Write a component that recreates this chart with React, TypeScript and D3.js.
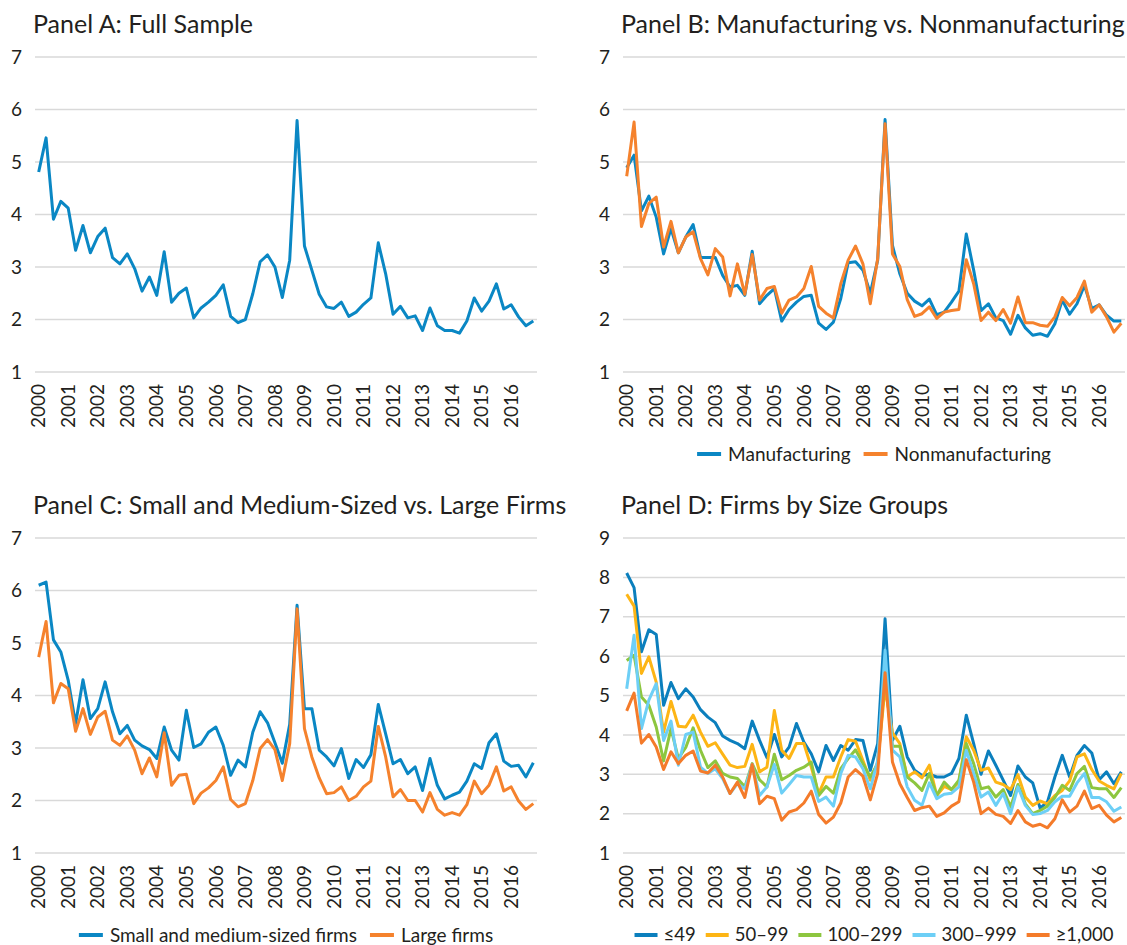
import React, { useEffect, useRef } from 'react';
import * as d3 from 'd3';

const years = [2000, 2001, 2002, 2003, 2004, 2005, 2006, 2007, 2008, 2009, 2010, 2011, 2012, 2013, 2014, 2015, 2016];
const quarters = years.flatMap((y) => ['Q1', 'Q2', 'Q3', 'Q4'].map((q) => `${y}${q}`));

const fullSample = [
  4.81, 5.46, 3.91, 4.25, 4.12, 3.32, 3.79, 3.27, 3.58, 3.74,
  3.18, 3.06, 3.25, 2.97, 2.54, 2.81, 2.46, 3.29, 2.33, 2.50,
  2.60, 2.03, 2.22, 2.33, 2.46, 2.66, 2.06, 1.94, 2.00, 2.49,
  3.10, 3.23, 3.00, 2.42, 3.13, 5.79, 3.40, 2.94, 2.48, 2.24,
  2.21, 2.33, 2.06, 2.14, 2.29, 2.41, 3.46, 2.87, 2.10, 2.25,
  2.03, 2.07, 1.79, 2.22, 1.88, 1.79, 1.79, 1.74, 1.97, 2.41,
  2.16, 2.35, 2.68, 2.20, 2.28, 2.05, 1.88, 1.97,
];

const manufacturing = [
  4.89, 5.13, 4.07, 4.35, 3.95, 3.25, 3.73, 3.27, 3.57, 3.81,
  3.18, 3.18, 3.18, 2.84, 2.62, 2.65, 2.46, 3.30, 2.30, 2.46,
  2.59, 1.97, 2.19, 2.33, 2.44, 2.46, 1.93, 1.81, 1.95, 2.40,
  3.08, 3.10, 2.94, 2.50, 3.13, 5.81, 3.41, 2.87, 2.50, 2.35,
  2.26, 2.39, 2.09, 2.14, 2.33, 2.54, 3.63, 2.94, 2.17, 2.30,
  2.03, 1.98, 1.72, 2.08, 1.84, 1.70, 1.73, 1.68, 1.92, 2.37,
  2.10, 2.30, 2.65, 2.21, 2.28, 2.08, 1.97, 1.97,
];

const nonmanufacturing = [
  4.73, 5.76, 3.77, 4.21, 4.33, 3.38, 3.87, 3.27, 3.57, 3.67,
  3.16, 2.85, 3.35, 3.19, 2.45, 3.06, 2.48, 3.24, 2.37, 2.59,
  2.63, 2.12, 2.37, 2.43, 2.59, 3.01, 2.25, 2.12, 2.03, 2.68,
  3.13, 3.40, 3.06, 2.30, 3.16, 5.73, 3.25, 3.01, 2.38, 2.06,
  2.11, 2.24, 2.02, 2.14, 2.17, 2.19, 3.14, 2.68, 1.98, 2.14,
  1.98, 2.19, 1.93, 2.43, 1.94, 1.94, 1.89, 1.87, 2.05, 2.42,
  2.26, 2.42, 2.73, 2.14, 2.28, 2.05, 1.76, 1.93,
];

const smeFirms = [
  6.10, 6.16, 5.06, 4.83, 4.29, 3.46, 4.30, 3.56, 3.75, 4.26,
  3.69, 3.27, 3.43, 3.15, 3.04, 2.97, 2.80, 3.40, 2.96, 2.77,
  3.72, 3.01, 3.08, 3.30, 3.40, 3.05, 2.48, 2.77, 2.64, 3.30,
  3.69, 3.48, 3.10, 2.71, 3.45, 5.72, 3.75, 3.75, 2.96, 2.83,
  2.66, 2.99, 2.42, 2.78, 2.63, 2.87, 3.83, 3.27, 2.70, 2.78,
  2.51, 2.64, 2.19, 2.80, 2.29, 2.03, 2.10, 2.16, 2.37, 2.70,
  2.61, 3.10, 3.27, 2.75, 2.65, 2.67, 2.45, 2.72,
];

const largeFirms = [
  4.73, 5.41, 3.86, 4.23, 4.13, 3.32, 3.75, 3.26, 3.59, 3.70,
  3.15, 3.05, 3.23, 2.96, 2.51, 2.81, 2.45, 3.29, 2.29, 2.48,
  2.50, 1.94, 2.14, 2.24, 2.38, 2.64, 2.02, 1.88, 1.94, 2.38,
  2.99, 3.16, 2.97, 2.38, 3.08, 5.65, 3.37, 2.83, 2.43, 2.13,
  2.15, 2.26, 2.00, 2.08, 2.26, 2.37, 3.41, 2.83, 2.07, 2.21,
  2.00, 2.00, 1.78, 2.15, 1.83, 1.72, 1.77, 1.72, 1.92, 2.37,
  2.13, 2.29, 2.64, 2.18, 2.26, 1.99, 1.83, 1.94,
];

const size49 = [
  8.11, 7.74, 6.11, 6.67, 6.55, 4.75, 5.33, 4.92, 5.17, 4.96,
  4.64, 4.45, 4.31, 3.97, 3.86, 3.78, 3.65, 4.35, 3.86, 3.42,
  4.01, 3.44, 3.69, 4.29, 3.82, 3.52, 3.06, 3.73, 3.35, 3.73,
  3.61, 3.88, 3.86, 3.10, 3.78, 6.95, 3.86, 4.22, 3.44, 3.10,
  2.97, 3.00, 2.93, 2.93, 3.02, 3.40, 4.50, 3.78, 3.00, 3.59,
  3.23, 2.85, 2.46, 3.21, 2.93, 2.78, 2.14, 2.30, 2.93, 3.48,
  2.93, 3.48, 3.73, 3.54, 2.86, 3.06, 2.76, 3.06,
];

const size50to99 = [
  7.57, 7.27, 5.56, 5.98, 5.34, 4.07, 4.85, 4.22, 4.20, 4.50,
  4.07, 3.71, 3.80, 3.51, 3.23, 3.17, 3.20, 3.76, 3.06, 3.18,
  4.62, 3.61, 3.40, 3.78, 3.78, 3.18, 2.51, 2.93, 2.93, 3.44,
  3.88, 3.84, 3.35, 2.85, 3.30, 5.20, 4.05, 3.78, 2.93, 3.06,
  2.91, 3.23, 2.46, 2.69, 2.61, 2.80, 3.95, 3.61, 3.10, 3.16,
  2.80, 2.74, 2.61, 2.99, 2.42, 2.21, 2.32, 2.25, 2.46, 2.59,
  2.83, 3.44, 3.52, 3.12, 2.83, 2.72, 2.63, 3.02,
];

const size100to299 = [
  5.89, 6.02, 4.96, 4.75, 4.20, 3.34, 4.16, 3.40, 3.68, 4.18,
  3.61, 3.17, 3.34, 3.02, 2.93, 2.89, 2.68, 3.27, 2.86, 2.68,
  3.51, 2.86, 2.97, 3.10, 3.18, 3.31, 2.46, 2.69, 2.52, 3.14,
  3.40, 3.62, 3.27, 2.93, 3.27, 5.50, 3.71, 3.71, 2.93, 2.78,
  2.59, 3.02, 2.46, 2.80, 2.61, 2.85, 3.78, 3.27, 2.63, 2.68,
  2.42, 2.61, 2.17, 2.74, 2.25, 2.00, 2.08, 2.19, 2.41, 2.72,
  2.59, 3.02, 3.20, 2.66, 2.63, 2.63, 2.41, 2.66,
];

const size300to999 = [
  5.17, 6.53, 4.16, 4.88, 5.30, 3.86, 4.35, 3.23, 4.01, 4.07,
  3.18, 3.02, 3.14, 2.89, 2.51, 2.76, 2.63, 3.25, 2.46, 2.68,
  3.25, 2.52, 2.74, 2.97, 2.93, 2.93, 2.31, 2.42, 2.19, 3.02,
  3.48, 3.44, 3.14, 2.63, 3.35, 6.15, 3.61, 3.44, 2.68, 2.34,
  2.21, 2.78, 2.38, 2.49, 2.52, 2.68, 3.61, 3.02, 2.42, 2.55,
  2.21, 2.51, 2.00, 2.68, 2.21, 1.98, 2.00, 2.08, 2.30, 2.44,
  2.44, 2.78, 3.02, 2.41, 2.41, 2.30, 2.06, 2.17,
];

const size1000plus = [
  4.61, 5.06, 3.79, 4.01, 3.69, 3.12, 3.57, 3.27, 3.48, 3.59,
  3.08, 3.03, 3.23, 2.93, 2.51, 2.80, 2.41, 3.25, 2.25, 2.44,
  2.38, 1.83, 2.04, 2.10, 2.27, 2.57, 1.98, 1.76, 1.91, 2.27,
  2.93, 3.12, 2.95, 2.35, 3.02, 5.58, 3.31, 2.76, 2.41, 2.08,
  2.15, 2.19, 1.93, 2.02, 2.19, 2.30, 3.37, 2.80, 2.00, 2.14,
  1.98, 1.93, 1.75, 2.08, 1.79, 1.68, 1.73, 1.64, 1.87, 2.35,
  2.04, 2.19, 2.57, 2.13, 2.21, 1.96, 1.79, 1.90,
];

const ticksTop = [1, 2, 3, 4, 5, 6, 7];
const ticksD = [1, 2, 3, 4, 5, 6, 7, 8, 9];

const BLUE = '#0a87c4';
const ORANGE = '#f5822d';

type Series = { name: string; values: number[]; color: string };
type Panel = {
  title: string;
  left: number;
  top: number;
  yTicks: number[];
  series: Series[];
  legend: boolean;
};

const panels: Panel[] = [
  { title: 'Panel A: Full Sample', left: 35, top: 57, yTicks: ticksTop, legend: false,
    series: [{ name: 'Full sample', values: fullSample, color: BLUE }] },
  { title: 'Panel B: Manufacturing vs. Nonmanufacturing', left: 623, top: 57, yTicks: ticksTop, legend: true,
    series: [
      { name: 'Manufacturing', values: manufacturing, color: BLUE },
      { name: 'Nonmanufacturing', values: nonmanufacturing, color: ORANGE },
    ] },
  { title: 'Panel C: Small and Medium-Sized vs. Large Firms', left: 35, top: 538, yTicks: ticksTop, legend: true,
    series: [
      { name: 'Small and medium-sized firms', values: smeFirms, color: BLUE },
      { name: 'Large firms', values: largeFirms, color: ORANGE },
    ] },
  { title: 'Panel D: Firms by Size Groups', left: 623, top: 538, yTicks: ticksD, legend: true,
    series: [
      { name: '≤49', values: size49, color: '#0b7fbd' },
      { name: '50–99', values: size50to99, color: '#fdb515' },
      { name: '100–299', values: size100to299, color: '#8dc63f' },
      { name: '300–999', values: size300to999, color: '#6dcff6' },
      { name: '≥1,000', values: size1000plus, color: '#f47b2a' },
    ] },
];

const PW = 502;
const PH = 315;
const FONT = 'Lato, "Open Sans", sans-serif';
const TEXT = '#231f20';

export default function App() {
  const ref = useRef<SVGSVGElement>(null);

  useEffect(() => {
    const svg = d3.select(ref.current);
    svg.selectAll('*').remove();

    panels.forEach((p) => {
      const g = svg.append('g');
      const x = d3.scaleBand<string>().domain(quarters).range([p.left, p.left + PW]);
      const yMin = p.yTicks[0];
      const yMax = p.yTicks[p.yTicks.length - 1];
      const y = d3.scaleLinear().domain([yMin, yMax]).range([p.top + PH, p.top]);
      const cx = (q: string) => (x(q) as number) + x.bandwidth() / 2;

      g.append('text')
        .attr('x', p.left - 2)
        .attr('y', p.top - 24)
        .attr('font-family', FONT)
        .attr('font-size', 25)
        .attr('fill', TEXT)
        .text(p.title);

      g.selectAll('line.grid')
        .data(p.yTicks)
        .join('line')
        .attr('x1', p.left)
        .attr('x2', p.left + PW)
        .attr('y1', (d) => y(d))
        .attr('y2', (d) => y(d))
        .attr('stroke', '#d9d9d9')
        .attr('stroke-width', 1.5);

      g.selectAll('text.ytick')
        .data(p.yTicks)
        .join('text')
        .attr('x', p.left - 13)
        .attr('y', (d) => y(d))
        .attr('dy', '0.35em')
        .attr('text-anchor', 'end')
        .attr('font-family', FONT)
        .attr('font-size', 19)
        .attr('fill', TEXT)
        .text((d) => String(d));

      const yearQ = quarters.filter((q) => q.endsWith('Q1'));
      g.selectAll('text.xtick')
        .data(yearQ)
        .join('text')
        .attr('transform', (q) => `translate(${cx(q)},${p.top + PH + 12}) rotate(-90)`)
        .attr('dy', '0.35em')
        .attr('text-anchor', 'end')
        .attr('font-family', FONT)
        .attr('font-size', 19)
        .attr('fill', TEXT)
        .text((q) => q.slice(0, 4));

      const line = d3
        .line<number>()
        .x((_, i) => cx(quarters[i]))
        .y((v) => y(v));

      p.series.forEach((s) => {
        g.append('path')
          .attr('d', line(s.values) as string)
          .attr('fill', 'none')
          .attr('stroke', s.color)
          .attr('stroke-width', 3)
          .attr('stroke-linejoin', 'round');
      });

      if (p.legend) {
        const ly = p.top + PH + 82;
        const lg = g.append('g');
        const many = p.series.length > 2;
        const fs = many ? 18.5 : 19;
        const items: { s: Series; w: number }[] = [];
        p.series.forEach((s) => {
          const t = lg
            .append('text')
            .attr('font-family', FONT)
            .attr('font-size', fs)
            .attr('fill', TEXT)
            .attr('dy', '0.35em')
            .text(s.name);
          const w = (t.node() as SVGTextElement).getComputedTextLength();
          items.push({ s, w });
          t.remove();
        });
        const lineLen = many ? 23 : 24;
        const gapLT = many ? 6 : 7;
        const gapItem = many ? 10 : 13;
        const total = items.reduce((a, it) => a + lineLen + gapLT + it.w, 0) + gapItem * (items.length - 1);
        let cur = p.left + PW / 2 - total / 2;
        items.forEach((it) => {
          lg.append('line')
            .attr('x1', cur)
            .attr('x2', cur + lineLen)
            .attr('y1', ly)
            .attr('y2', ly)
            .attr('stroke', it.s.color)
            .attr('stroke-width', 4);
          lg.append('text')
            .attr('x', cur + lineLen + gapLT)
            .attr('y', ly)
            .attr('dy', '0.35em')
            .attr('font-family', FONT)
            .attr('font-size', fs)
            .attr('fill', TEXT)
            .text(it.s.name);
          cur += lineLen + gapLT + it.w + gapItem;
        });
      }
    });
  }, []);

  return (
    <svg
      ref={ref}
      width={1127}
      height={945}
      style={{ position: 'absolute', left: 0, top: 0, background: '#fff' }}
    />
  );
}
